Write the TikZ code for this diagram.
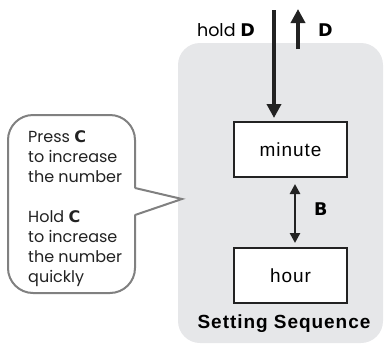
\documentclass[tikz,border=0pt]{standalone}
\usepackage{fontspec}
\setmainfont{Poppins}
\newfontfamily\boxfont[LetterSpace=5]{Liberation Sans}
\newfontfamily\keyfont{DejaVu Sans}
\newcommand{\keyname}[1]{{\keyfont\bfseries #1}}
\usepackage{tikz}
\usetikzlibrary{positioning}
\usetikzlibrary{arrows.meta}

\definecolor{PanelGrey}{HTML}{E6E7E9}
\definecolor{BubbleGrey}{HTML}{808080}
\definecolor{InkDark}{HTML}{222222}

\tikzset{
	stagebox/.style={draw=InkDark, line width=2pt, fill=white, outer sep=0pt,
		minimum width=113pt, minimum height=55pt, inner sep=0pt,
		font=\boxfont\fontsize{19}{22}\selectfont},
	seqtitle/.style={inner sep=0pt, font=\boxfont\bfseries\fontsize{19}{22}\selectfont},
	keylabel/.style={inner sep=0pt, font=\fontsize{17.5}{20}\selectfont},
	keyarrow/.style={draw=InkDark, line width=3.5pt, -{Triangle[width=14pt,length=14pt]}},
	swaparrow/.style={draw=InkDark, line width=2.5pt,
		{Triangle[width=10pt,length=10pt]}-{Triangle[width=10pt,length=10pt]}},
	bubblebody/.style={draw=BubbleGrey, line width=2pt, fill=white, outer sep=0pt,
		rounded corners=25pt, inner sep=0pt},
	bubbleline/.style={draw=BubbleGrey, line width=2pt, line join=miter},
	hinttext/.style={inner sep=0pt, align=left, text=InkDark,
		font=\fontsize{16}{20}\selectfont},
}

\begin{document}
\begin{tikzpicture}[x=1pt, y=-1pt]

	% ------------------------------------------------
	% Ensure the dimensions of graphic are appropriate
	\useasboundingbox (0,0) rectangle (384,346);

	% ------------------------------------------------
	% Grey panel behind the sequence
	\fill[PanelGrey, rounded corners=22pt] (178,43) rectangle (383,343);

	% ----------------
	% Setting stages
	\node[stagebox] (Minute) at (290.5,149.5) {minute};
	\node[stagebox, below=71pt of Minute] (Hour) {hour};
	\node[seqtitle, anchor=base] (Title) at (284,328) {Setting Sequence};

	% ------------------------------------------------
	% Relevant coordinates
	\coordinate (HoldTop) at (274,10);
	\coordinate (PressBase) at (298,49);
	\path (PressBase) +(0,-40) coordinate (PressTop);

	% ----------------
	% Key arrows
	\draw[keyarrow, shorten >=4pt] (HoldTop) -- (HoldTop |- Minute.north);
	\draw[keyarrow] (PressBase) -- (PressTop);
	\draw[swaparrow, shorten <=7pt, shorten >=5pt]
		([xshift=4.5pt]Minute.south) -- ([xshift=4.5pt]Hour.north);

	\node[keylabel, anchor=base east] (HoldLabel) at (255,36) {hold \keyname{D}};
	\node[keylabel, anchor=base west] (PressLabel) at (318,36) {\keyname{D}};
	\node[keylabel, anchor=base west] (SwapLabel) at (314,215) {\keyname{B}};

	%%%%%%%%%%%%%%%%%%%%%%%%%%%%%%%%%%%%%%%%%
	% Speech bubble
	\node[bubblebody, minimum width=127pt, minimum height=178pt] (Bubble) at (71.5,204) {};

	\path (Bubble.east) +(0,-16) coordinate (TipUpper);
	\path (Bubble.east) +(0,11)  coordinate (TipLower);
	\path (Bubble.east) +(47,-5) coordinate (TipPoint);

	\fill[white] ([xshift=-2pt]TipUpper) -- (TipPoint) -- ([xshift=-2pt]TipLower) -- cycle;
	\draw[bubbleline] (TipUpper) -- (TipPoint) -- (TipLower);

	\node[hinttext, anchor=west] (Hint) at (28,209)
		{Press \keyname{C}\\ to increase\\ the number\\[20pt]
		 Hold \keyname{C}\\ to increase\\ the number\\ quickly};

\end{tikzpicture}
\end{document}
